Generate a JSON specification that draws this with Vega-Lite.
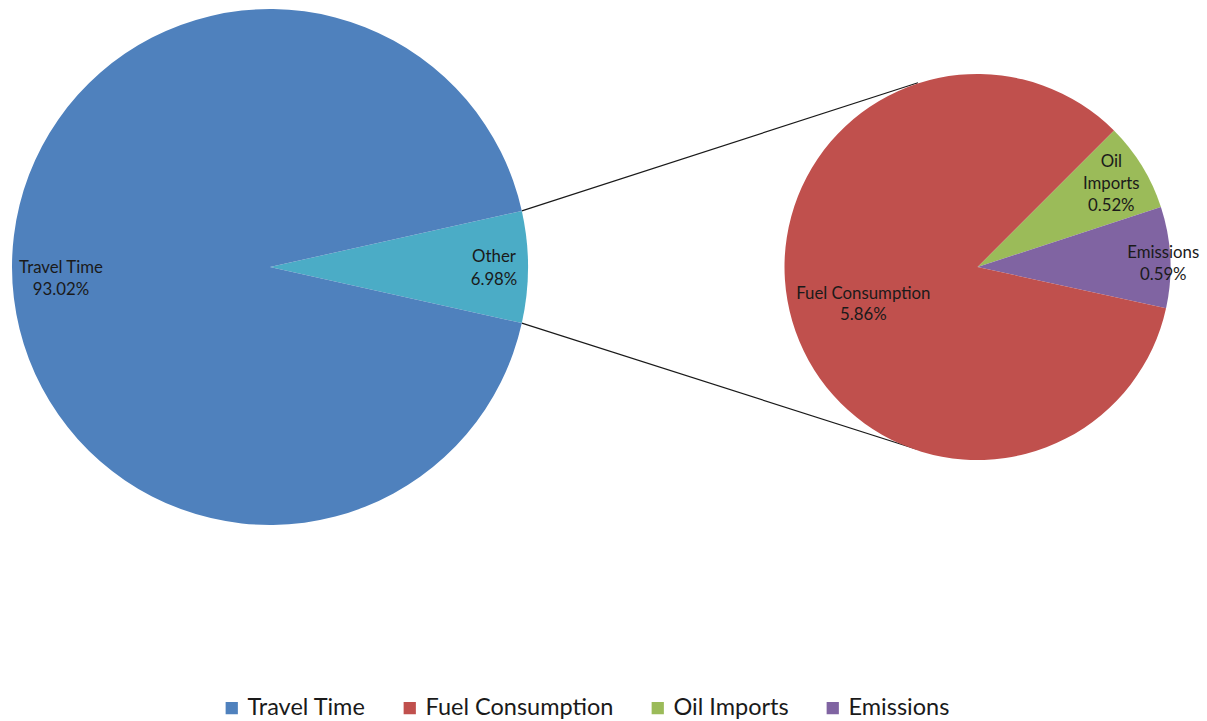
{
  "$schema": "https://vega.github.io/schema/vega-lite/v6.json",
  "width": 1207,
  "height": 721,
  "padding": 0,
  "autosize": {"type": "none"},
  "background": "#ffffff",
  "config": {
    "view": {"stroke": null},
    "font": "Lato",
    "legend": {
      "orient": "none",
      "legendX": 220,
      "legendY": 696,
      "direction": "horizontal",
      "symbolType": "square",
      "symbolSize": 150,
      "symbolStrokeWidth": 0,
      "labelFont": "Lato",
      "labelFontSize": 23.5,
      "labelColor": "#1a1a1a",
      "labelOffset": 4,
      "labelLimit": 400,
      "columnPadding": 32,
      "title": null
    }
  },
  "datasets": {
    "delay_costs": [
      {"cat": "Other", "value": 6.98},
      {"cat": "Travel Time", "value": 93.02}
    ],
    "other_breakdown": [
      {"cat": "Oil Imports", "value": 0.52},
      {"cat": "Emissions", "value": 0.59},
      {"cat": "Fuel Consumption", "value": 5.86}
    ]
  },
  "resolve": {"scale": {"theta": "independent"}},
  "layer": [
    {
      "data": {"values": [{}]},
      "mark": {"type": "rule", "color": "#1a1a1a", "strokeWidth": 1.2},
      "encoding": {
        "x": {"datum": 0.97606, "type": "quantitative", "scale": {"domain": [-1.04651, 3.63178], "nice": false, "zero": false}, "axis": null},
        "y": {"datum": -0.21752, "type": "quantitative", "scale": {"domain": [-1.03488, 1.75969], "reverse": true, "nice": false, "zero": false}, "axis": null},
        "x2": {"datum": 2.51163},
        "y2": {"datum": -0.71434}
      }
    },
    {
      "data": {"values": [{}]},
      "mark": {"type": "rule", "color": "#1a1a1a", "strokeWidth": 1.2},
      "encoding": {
        "x": {"datum": 0.97606, "type": "quantitative", "scale": {"domain": [-1.04651, 3.63178], "nice": false, "zero": false}, "axis": null},
        "y": {"datum": 0.21752, "type": "quantitative", "scale": {"domain": [-1.03488, 1.75969], "reverse": true, "nice": false, "zero": false}, "axis": null},
        "x2": {"datum": 2.50388},
        "y2": {"datum": 0.70543}
      }
    },
    {
      "data": {"name": "delay_costs"},
      "transform": [
        {"window": [{"op": "row_number", "as": "seq"}]},
        {"calculate": "datum.cat + '\\n' + format(datum.value, '.2f') + '%'", "as": "label"}
      ],
      "encoding": {
        "x": {"datum": 0, "type": "quantitative", "scale": {"domain": [-1.04651, 3.63178], "nice": false, "zero": false}, "axis": null},
        "y": {"datum": 0, "type": "quantitative", "scale": {"domain": [-1.03488, 1.75969], "reverse": true, "nice": false, "zero": false}, "axis": null},
        "theta": {"field": "value", "type": "quantitative", "stack": true, "scale": {"range": [1.35152, 7.63471], "nice": false, "zero": true}},
        "order": {"field": "seq", "type": "quantitative"},
        "detail": {"field": "cat", "type": "nominal"}
      },
      "layer": [
        {
          "mark": {"type": "arc", "radius": 258},
          "encoding": {
            "color": {
              "field": "cat",
              "type": "nominal",
              "scale": {
                "domain": ["Travel Time", "Fuel Consumption", "Oil Imports", "Emissions", "Other"],
                "range": ["#4F81BD", "#C0504D", "#9BBB59", "#8064A2", "#4BACC6"]
              },
              "legend": {"values": ["Travel Time", "Fuel Consumption", "Oil Imports", "Emissions"]}
            }
          }
        },
        {
          "mark": {"type": "text", "radius": 209, "dy": 1, "lineBreak": "\n", "lineHeight": 22, "fontSize": 16.8, "color": "#1a1a1a", "align": "center", "baseline": "middle"},
          "encoding": {
            "text": {"condition": {"test": "datum.cat === 'Travel Time'", "field": "label"}, "value": ""}
          }
        },
        {
          "mark": {"type": "text", "radius": 224, "dy": -10, "lineBreak": "\n", "lineHeight": 23, "fontSize": 16.8, "color": "#1a1a1a", "align": "center", "baseline": "middle"},
          "encoding": {
            "text": {"condition": {"test": "datum.cat === 'Other'", "field": "label"}, "value": ""}
          }
        }
      ]
    },
    {
      "data": {"name": "other_breakdown"},
      "transform": [
        {"window": [{"op": "row_number", "as": "seq"}]},
        {"calculate": "(datum.cat === 'Oil Imports' ? 'Oil\\nImports' : datum.cat) + '\\n' + format(datum.value, '.2f') + '%'", "as": "label"}
      ],
      "encoding": {
        "x": {"datum": 2.74225, "type": "quantitative", "scale": {"domain": [-1.04651, 3.63178], "nice": false, "zero": false}, "axis": null},
        "y": {"datum": 0, "type": "quantitative", "scale": {"domain": [-1.03488, 1.75969], "reverse": true, "nice": false, "zero": false}, "axis": null},
        "theta": {"field": "value", "type": "quantitative", "stack": true, "scale": {"range": [0.785398, 7.068583], "nice": false, "zero": true}},
        "order": {"field": "seq", "type": "quantitative"},
        "detail": {"field": "cat", "type": "nominal"}
      },
      "layer": [
        {
          "mark": {"type": "arc", "radius": 193},
          "encoding": {
            "color": {
              "field": "cat",
              "type": "nominal",
              "scale": {
                "domain": ["Travel Time", "Fuel Consumption", "Oil Imports", "Emissions", "Other"],
                "range": ["#4F81BD", "#C0504D", "#9BBB59", "#8064A2", "#4BACC6"]
              },
              "legend": {"values": ["Travel Time", "Fuel Consumption", "Oil Imports", "Emissions"]}
            }
          }
        },
        {
          "mark": {"type": "text", "radius": 119, "dy": -6, "lineBreak": "\n", "lineHeight": 21, "fontSize": 16.8, "color": "#1a1a1a", "align": "center", "baseline": "middle"},
          "encoding": {
            "text": {"condition": {"test": "datum.cat === 'Fuel Consumption'", "field": "label"}, "value": ""}
          }
        },
        {
          "mark": {"type": "text", "radius": 157, "dy": -23, "lineBreak": "\n", "lineHeight": 22, "fontSize": 16.8, "color": "#1a1a1a", "align": "center", "baseline": "middle"},
          "encoding": {
            "text": {"condition": {"test": "datum.cat === 'Oil Imports'", "field": "label"}, "value": ""}
          }
        },
        {
          "mark": {"type": "text", "radius": 186, "dy": -5, "lineBreak": "\n", "lineHeight": 22, "fontSize": 16.8, "color": "#1a1a1a", "align": "center", "baseline": "middle"},
          "encoding": {
            "text": {"condition": {"test": "datum.cat === 'Emissions'", "field": "label"}, "value": ""}
          }
        }
      ]
    }
  ]
}
